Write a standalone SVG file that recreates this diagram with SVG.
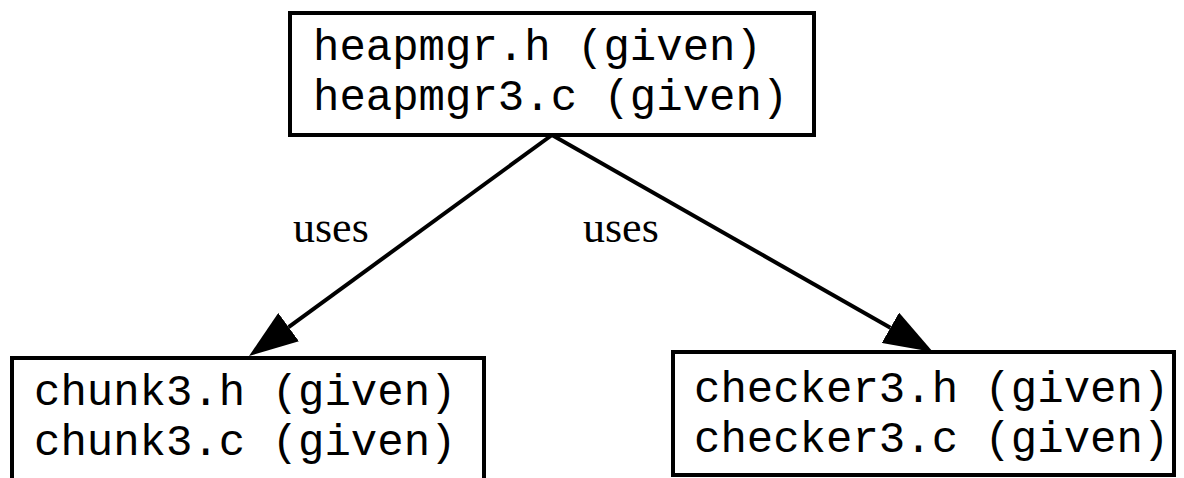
<svg xmlns="http://www.w3.org/2000/svg" width="1184" height="478" viewBox="0 0 1184 478">
  <style>
    .box { fill: #ffffff; stroke: #000000; stroke-width: 4; }
    .code { font-family: "Liberation Mono", "Courier New", monospace; font-size: 44px; fill: #000000; }
    .label { font-family: "Liberation Serif", "Times New Roman", serif; font-size: 44px; fill: #000000; }
    .edge { fill: none; stroke: #000000; stroke-width: 4; }
  </style>
  <defs>
    <marker id="arrow" viewBox="0 0 49 35" refX="0" refY="17.5" markerWidth="49" markerHeight="35" markerUnits="userSpaceOnUse" orient="auto">
      <path d="M0,0 L49,17.5 L0,35 z" fill="#000000"/>
    </marker>
  </defs>
  <rect width="1184" height="478" fill="#ffffff"/>

  <g id="connectors">
    <path class="edge" d="M552,135 L288.6,327.1" marker-end="url(#arrow)"/>
    <path class="edge" d="M552,135 L890.4,327.8" marker-end="url(#arrow)"/>
    <text class="label" x="293" y="242">uses</text>
    <text class="label" x="583" y="242">uses</text>
  </g>

  <g id="heapmgr">
    <rect class="box" x="290" y="13" width="524" height="122"/>
    <text class="code" x="313" y="60">heapmgr.h (given)</text>
    <text class="code" x="313" y="110">heapmgr3.c (given)</text>
  </g>

  <g id="chunk">
    <rect class="box" x="12" y="358" width="472" height="130"/>
    <text class="code" x="34" y="405">chunk3.h (given)</text>
    <text class="code" x="34" y="455">chunk3.c (given)</text>
  </g>

  <g id="checker">
    <rect class="box" x="673" y="352" width="501" height="123"/>
    <text class="code" x="694" y="402">checker3.h (given)</text>
    <text class="code" x="694" y="452">checker3.c (given)</text>
  </g>
</svg>
